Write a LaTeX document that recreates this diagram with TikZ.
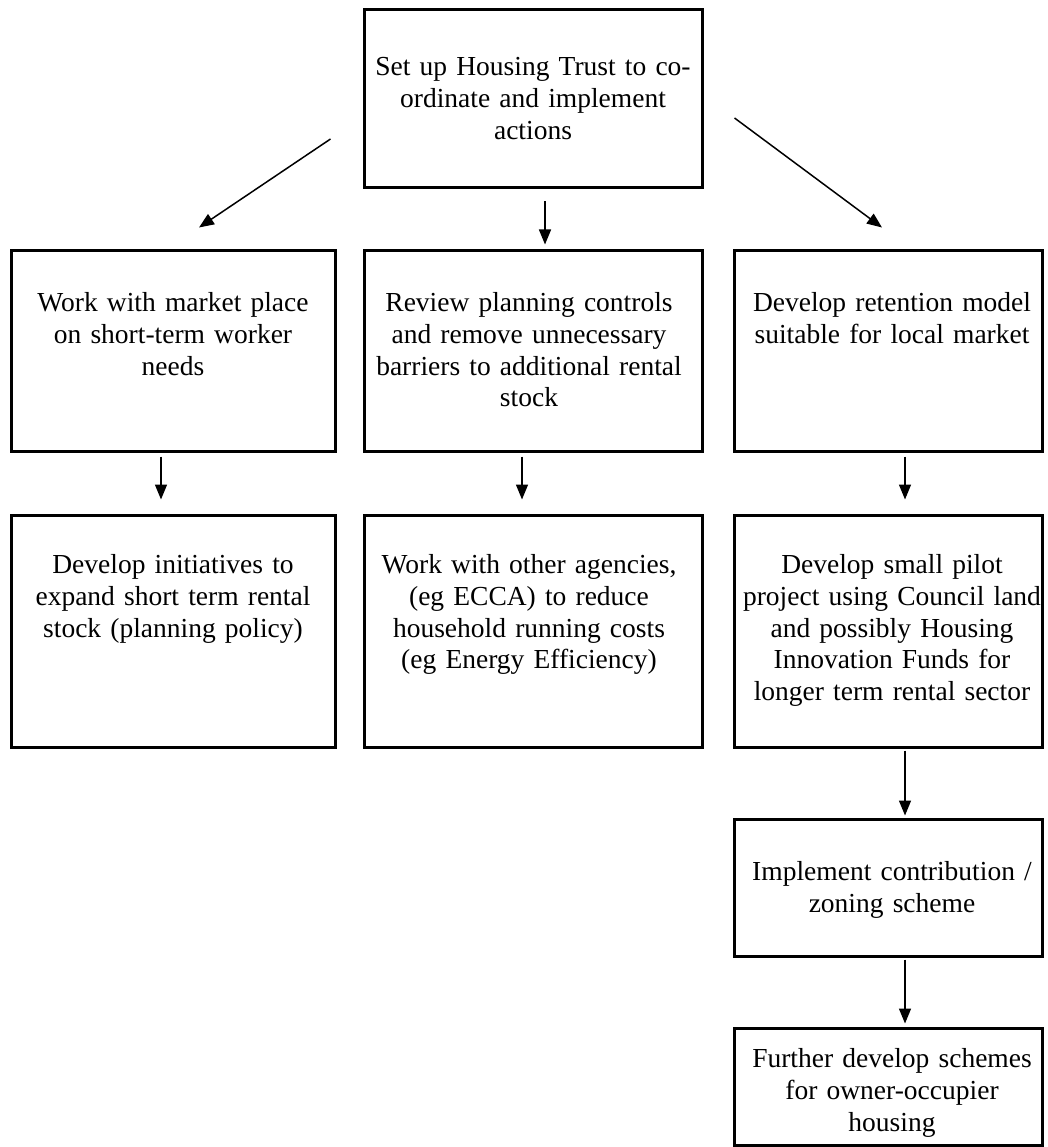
\documentclass[tikz,border=0pt]{standalone}
\usepackage{fontspec}
\setmainfont{Liberation Serif}
\usetikzlibrary{arrows.meta}
\begin{document}
\begin{tikzpicture}[x=1pt,y=-1pt,
  box/.style={draw=black, line width=3pt, rectangle, inner sep=0pt},
  txt/.style={anchor=base, align=center, text width=340pt, inner sep=0pt,
    font=\fontsize{27.5}{31.8}\selectfont},
  arr/.style={line width=1.5pt, -{Triangle[length=15pt,width=12pt]}}]
\useasboundingbox (0,0) rectangle (1047,1147);
% boxes
\node[box, minimum width=338pt, minimum height=178pt] (T) at (533,99) {};
\node[box, minimum width=324pt, minimum height=200pt] (L2) at (173,351) {};
\node[box, minimum width=338pt, minimum height=200pt] (M2) at (533,351) {};
\node[box, minimum width=308pt, minimum height=200pt] (R2) at (888,351) {};
\node[box, minimum width=324pt, minimum height=232pt] (L3) at (173,631) {};
\node[box, minimum width=338pt, minimum height=232pt] (M3) at (533,631) {};
\node[box, minimum width=308pt, minimum height=232pt] (R3) at (888,631) {};
\node[box, minimum width=308pt, minimum height=137pt] (R4) at (888,887.5) {};
\node[box, minimum width=308pt, minimum height=117pt] (R5) at (888,1086.5) {};
% texts
\node[txt] (Tt) at ([shift={(0,67)}]T.north) {Set up Housing Trust to co-\\ordinate and implement\\actions};
\node[txt] (L2t) at ([shift={(0,62)}]L2.north) {Work with market place\\on short-term worker\\needs};
\node[txt] (M2t) at ([shift={(-4,62)}]M2.north) {Review planning controls\\and remove unnecessary\\barriers to additional rental\\stock};
\node[txt] (R2t) at ([shift={(4,62)}]R2.north) {Develop retention model\\suitable for local market};
\node[txt] (L3t) at ([shift={(0,60)}]L3.north) {Develop initiatives to\\expand short term rental\\stock (planning policy)};
\node[txt] (M3t) at ([shift={(-4,60)}]M3.north) {Work with other agencies,\\(eg ECCA) to reduce\\household running costs\\(eg Energy Efficiency)};
\node[txt] (R3t) at ([shift={(4,60)}]R3.north) {Develop small pilot\\project using Council land\\and possibly Housing\\Innovation Funds for\\longer term rental sector};
\node[txt] (R4t) at ([shift={(4,63)}]R4.north) {Implement contribution /\\zoning scheme};
\node[txt] (R5t) at ([shift={(4,41)}]R5.north) {Further develop schemes\\for owner-occupier\\housing};
% arrows
\draw[arr] ([shift={(-32,40)}]T.west) -- ([shift={(26,-22)}]L2.north);
\draw[arr] ([shift={(12,12)}]T.south) -- ([shift={(12,-5)}]M2.north);
\draw[arr] ([shift={(31,19)}]T.east) -- ([shift={(-6,-22)}]R2.north);
\draw[arr] ([shift={(-12,4)}]L2.south) -- ([shift={(-12,-14)}]L3.north);
\draw[arr] ([shift={(-11,4)}]M2.south) -- ([shift={(-11,-14)}]M3.north);
\draw[arr] ([shift={(17,4)}]R2.south) -- ([shift={(17,-14)}]R3.north);
\draw[arr] ([shift={(17,2)}]R3.south) -- ([shift={(17,-2)}]R4.north);
\draw[arr] ([shift={(17,2)}]R4.south) -- ([shift={(17,-3)}]R5.north);
\end{tikzpicture}
\end{document}
